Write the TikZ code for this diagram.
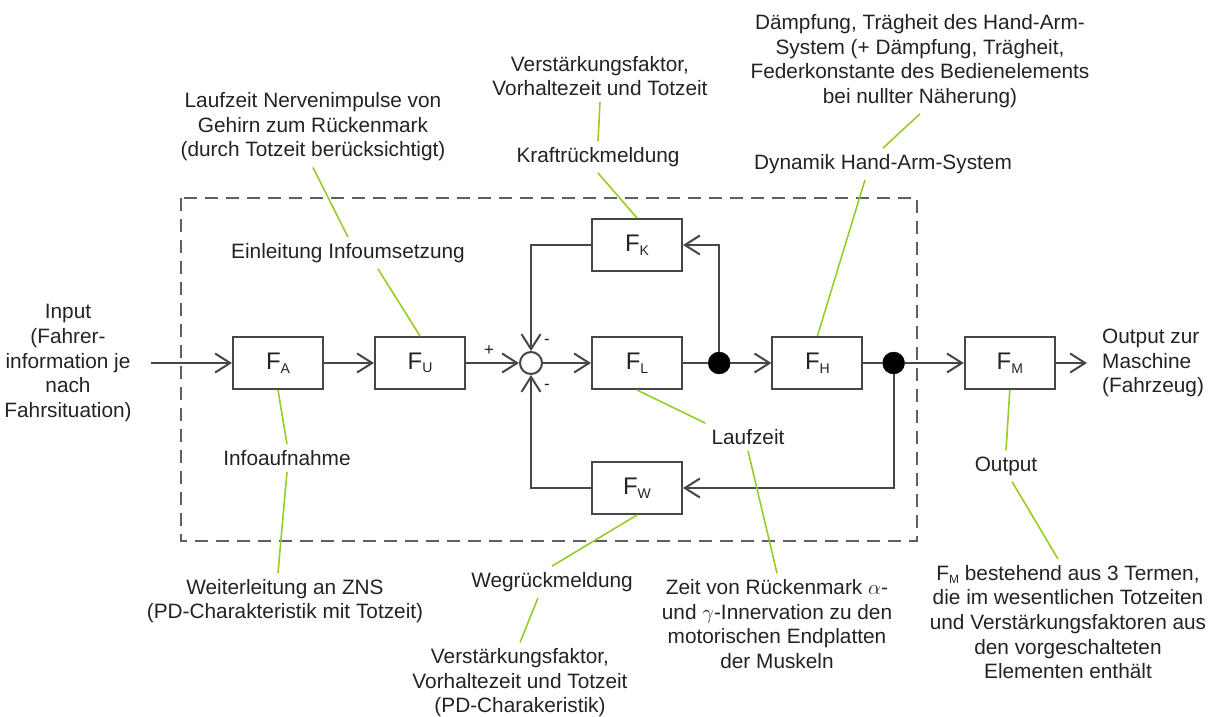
\documentclass[tikz,border=0pt]{standalone}
\usepackage{fontspec}
\setmainfont{Liberation Sans}
\usetikzlibrary{arrows.meta,positioning}

\definecolor{linegray}{RGB}{70,70,70}
\definecolor{framegray}{RGB}{95,95,95}
\definecolor{txtgray}{RGB}{35,35,35}
\definecolor{notegreen}{RGB}{150,205,40}

% block letter with its index
\newcommand{\Fsub}[1]{F\raisebox{-3.5pt}{\fontsize{14}{14}\selectfont #1}}

\begin{document}
\begin{tikzpicture}[x=1pt,y=-1pt,>={Straight Barb[length=15pt,width=19pt]},
  font=\fontsize{20.8}{24.6}\selectfont, text=txtgray]
	\tikzstyle{block} = [draw=linegray, line width=2pt, rectangle, minimum height=52pt, minimum width=90pt, font=\fontsize{24}{24}\selectfont]
	\tikzstyle{dot} = [circle, fill=black, draw=black, minimum size=22pt, inner sep=0pt]
	\tikzstyle{sumnode} = [circle, draw=linegray, line width=2pt, fill=white, minimum size=22pt, inner sep=0pt]
	\tikzstyle{sgn} = [inner sep=0pt, font=\fontsize{17}{17}\selectfont]
	\tikzstyle{lbl} = [align=center, inner sep=6pt]
	\tikzstyle{sig} = [draw=linegray, line width=2pt]
	\tikzstyle{note} = [draw=notegreen, line width=1.6pt]
	\useasboundingbox (0,0) rectangle (1215,717);

	% human operator frame
	\draw [framegray, line width=2pt, dash pattern=on 13pt off 8pt] (181,198) rectangle (917,541);

	\node [block] (FA) at (278,363) {\Fsub{A}};
	\node [block, right = 50pt of FA] (FU) {\Fsub{U}};
	\node [sumnode, right = 53pt of FU] (sum) {};
	\node [block, right = 48pt of sum] (FL) {\Fsub{L}};
	\node [dot, right = 25pt of FL] (d1) {};
	\node [block, right = 41pt of d1] (FH) {\Fsub{H}};
	\node [dot, right = 19pt of FH] (d2) {};
	\node [block, right = 59pt of d2] (FM) {\Fsub{M}};
	\node [block, above = 64pt of FL] (FK) {\Fsub{K}};
	\node [block, below = 71pt of FL] (FW) {\Fsub{W}};

	\node [sgn] (sgnIn) at (489,351) {+};
	\node [sgn] (sgnK) at (547,342) {-};
	\node [sgn] (sgnW) at (547,387) {-};

	\node [lbl] (input) at (68,363) {Input\\(Fahrer-\\information je\\nach\\Fahrsituation)};
	\node [lbl, align=left, anchor=west] (output) at (1096,363) {Output zur\\Maschine\\(Fahrzeug)};

	\node [lbl] (nerv) at (313,127) {Laufzeit Nervenimpulse von\\Gehirn zum Rückenmark\\(durch Totzeit berücksichtigt)};
	\node [lbl] (einl) at (348,253) {Einleitung Infoumsetzung};
	\node [lbl] (vkTop) at (600,76) {Verstärkungsfaktor,\\Vorhaltezeit und Totzeit};
	\node [lbl] (kraft) at (598,157) {Kraftrückmeldung};
	\node [lbl] (daempf) at (920,61) {Dämpfung, Trägheit des Hand-Arm-\\System (+ Dämpfung, Trägheit,\\Federkonstante des Bedienelements\\bei nullter Näherung)};
	\node [lbl] (dyn) at (883,164) {Dynamik Hand-Arm-System};
	\node [lbl] (infoauf) at (287,458) {Infoaufnahme};
	\node [lbl] (weiter) at (285,601) {Weiterleitung an ZNS\\(PD-Charakteristik mit Totzeit)};
	\node [lbl] (laufz) at (748,437) {Laufzeit};
	\node [lbl] (zeit) at (777,624) {Zeit von Rückenmark $\alpha$-\\und $\gamma$-Innervation zu den\\motorischen Endplatten\\der Muskeln};
	\node [lbl] (wegr) at (552,582) {Wegrückmeldung};
	\node [lbl] (vkBot) at (520,683) {Verstärkungsfaktor,\\Vorhaltezeit und Totzeit\\(PD-Charakeristik)};
	\node [lbl] (outp) at (1006,466) {Output};
	\node [lbl] (fmdesc) at (1068,622) {F\raisebox{-3pt}{\fontsize{12}{12}\selectfont M} bestehend aus 3 Termen,\\die im wesentlichen Totzeiten\\und Verstärkungsfaktoren aus\\den vorgeschalteten\\Elementen enthält};

	% signal path
	\draw [sig, ->, shorten <=13pt] (input.east) -- (FA);
	\draw [sig, ->] (FA) -- (FU);
	\draw [sig, ->] (FU) -- (sum);
	\draw [sig, ->] (sum) -- (FL);
	\draw [sig] (FL) -- (d1);
	\draw [sig, ->] (d1) -- (FH);
	\draw [sig] (FH) -- (d2);
	\draw [sig, ->] (d2) -- (FM);
	\draw [sig, ->, shorten >=9pt] (FM) -- (output);
	% feedback loops
	\draw [sig, ->] (d1) |- (FK.east);
	\draw [sig, ->] (FK.west) -| (sum.north);
	\draw [sig, ->] (d2) |- (FW.east);
	\draw [sig, ->] (FW.west) -| (sum.south);

	% annotations
	\draw [note] (nerv.south) -- (einl.north);
	\draw [note] ([xshift=30pt]einl.south) -- (FU.north);
	\draw [note] (vkTop.south) -- (kraft.north);
	\draw [note] (kraft.south) -- (FK.north);
	\draw [note] (daempf.south) -- (dyn.north);
	\draw [note] ([xshift=-18pt]dyn.south) -- (FH.north);
	\draw [note] (FA.south) -- (infoauf.north);
	\draw [note] (infoauf.south) -- ([xshift=-7pt]weiter.north);
	\draw [note] (FL.south) -- (laufz.north west);
	\draw [note] (laufz.south) -- (zeit.north);
	\draw [note] (FW.south) -- (wegr.north);
	\draw [note] ([xshift=-14pt]wegr.south) -- (vkBot.north);
	\draw [note] (FM.south) -- (outp.north);
	\draw [note] ([xshift=6pt]outp.south) -- ([xshift=-10pt]fmdesc.north);
\end{tikzpicture}
\end{document}
